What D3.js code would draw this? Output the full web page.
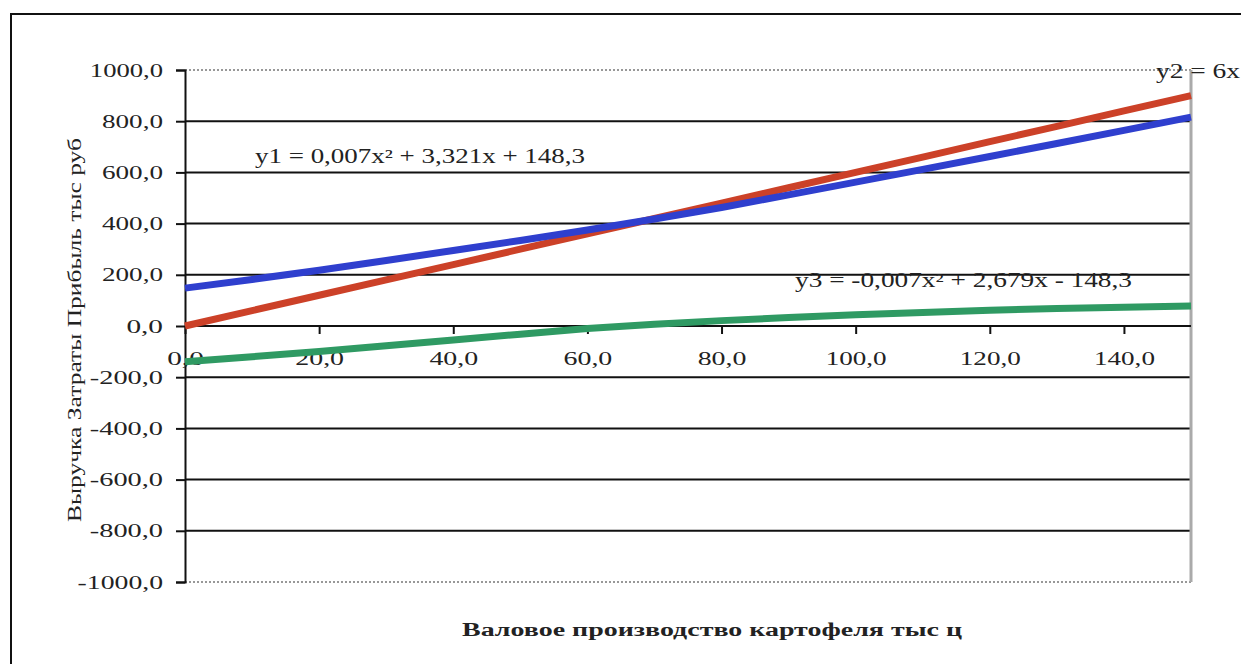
<!DOCTYPE html>
<html><head><meta charset="utf-8">
<script src="https://cdn.jsdelivr.net/npm/d3@7/dist/d3.min.js"></script>
<style>body{margin:0;background:#fff}svg{display:block}text{font-family:"Liberation Serif","Times New Roman",Tinos,serif}</style>
</head><body>
<svg id="c" width="1241" height="664"></svg>
<script>
const xValues = [0,10,20,30,40,50,60,70,80,90,100,110,120,130,140,150];
const y1Values = [148,182,218,256,295,334,375,418,463,512,562,612,662,713,764,816];
const y2Values = [0,60,120,180,240,300,360,420,480,540,600,660,720,780,840,900];
const y3Values = [-140,-120,-100,-77,-55,-32,-10,7,21,33,44,53,62,68,73,78];
const xTicks = [0,20,40,60,80,100,120,140];
const yTicks = [-1000,-800,-600,-400,-200,0,200,400,600,800,1000];
const labelY1 = "y1 = 0,007x² + 3,321x + 148,3";
const labelY2 = "y2 = 6x";
const labelY3 = "y3 = -0,007x² + 2,679x - 148,3";
const yTitle = "Выручка Затраты Прибыль тыс руб";
const xTitle = "Валовое производство картофеля тыс ц";

const svg = d3.select("#c");
const font = "Liberation Serif, Times New Roman, serif";
const x = d3.scaleLinear().domain([0,150]).range([185,1191]);
const y = d3.scaleLinear().domain([-1000,1000]).range([582,70]);
const fmt = v => d3.format(".1f")(v).replace(".", ",").replace("\u2212", "-");

// outer frame
svg.append("rect").attr("x",11).attr("y",14).attr("width",1400).attr("height",800)
  .attr("fill","none").attr("stroke","#111").attr("stroke-width",2);

// gridlines
svg.append("g").selectAll("line").data(yTicks).join("line")
  .attr("x1",x(0)).attr("x2",x(150)).attr("y1",d=>y(d)).attr("y2",d=>y(d))
  .attr("stroke",d=>Math.abs(d)===1000?"#777":"#111")
  .attr("stroke-width",d=>Math.abs(d)===1000?1.4:2)
  .attr("stroke-dasharray",d=>Math.abs(d)===1000?"2,2":null);

// right border
svg.append("line").attr("x1",x(150)).attr("x2",x(150)).attr("y1",y(1000)).attr("y2",y(-1000))
  .attr("stroke","#aaa").attr("stroke-width",3);

// y axis
const yAxis = d3.axisLeft(y).tickValues(yTicks).tickFormat(fmt).tickSize(9).tickPadding(13);
const ga = svg.append("g").attr("transform",`translate(${x(0)},0)`).call(yAxis);
ga.attr("font-family",font);
ga.select(".domain").attr("stroke","#111").attr("stroke-width",2);
ga.selectAll(".tick line").attr("stroke","#111").attr("stroke-width",2);
ga.selectAll(".tick text").attr("font-size",19).attr("fill","#222")
  .attr("textLength",d=>fmt(d).length*12.2).attr("lengthAdjust","spacingAndGlyphs");

// x axis at y=0
const xAxis = d3.axisBottom(x).tickValues(xTicks).tickFormat(fmt).tickSize(8).tickPadding(18);
const gx = svg.append("g").attr("transform",`translate(0,${y(0)})`).call(xAxis);
gx.attr("font-family",font);
gx.select(".domain").remove();
gx.selectAll(".tick line").attr("stroke","#111").attr("stroke-width",2);
gx.selectAll(".tick text").attr("font-size",19).attr("fill","#222")
  .attr("textLength",d=>fmt(d).length*12.2).attr("lengthAdjust","spacingAndGlyphs");
svg.append("line").attr("x1",x(0)).attr("x2",x(150)).attr("y1",y(0)).attr("y2",y(0))
  .attr("stroke","#111").attr("stroke-width",2);

// lines
const line = vals => d3.line().x((d,i)=>x(xValues[i])).y(d=>y(d))(vals);
const series = [
  {v:y2Values, c:"#cc4128"},
  {v:y1Values, c:"#2f3fce"},
  {v:y3Values, c:"#2f9a63"}
];
svg.append("g").selectAll("path").data(series).join("path")
  .attr("d",d=>line(d.v)).attr("fill","none").attr("stroke",d=>d.c)
  .attr("stroke-width",7).attr("stroke-linecap","butt");

// equation labels
const lab = (t,x0,y0,w) => svg.append("text").attr("x",x0).attr("y",y0)
  .attr("font-family",font).attr("font-size",20).attr("fill","#222")
  .attr("textLength",w).attr("lengthAdjust","spacingAndGlyphs").text(t);
lab(labelY1,255,163,330);
lab(labelY3,795,287,337);
lab(labelY2,1156,78,84);

// titles
svg.append("text").attr("transform","translate(81,330) rotate(-90)")
  .attr("text-anchor","middle").attr("font-family",font).attr("font-size",19).attr("fill","#222")
  .attr("textLength",384).attr("lengthAdjust","spacingAndGlyphs").text(yTitle);
svg.append("text").attr("x",712).attr("y",636).attr("text-anchor","middle")
  .attr("font-family",font).attr("font-size",18).attr("font-weight","bold").attr("fill","#222")
  .attr("textLength",500).attr("lengthAdjust","spacingAndGlyphs").text(xTitle);
</script>
</body></html>
